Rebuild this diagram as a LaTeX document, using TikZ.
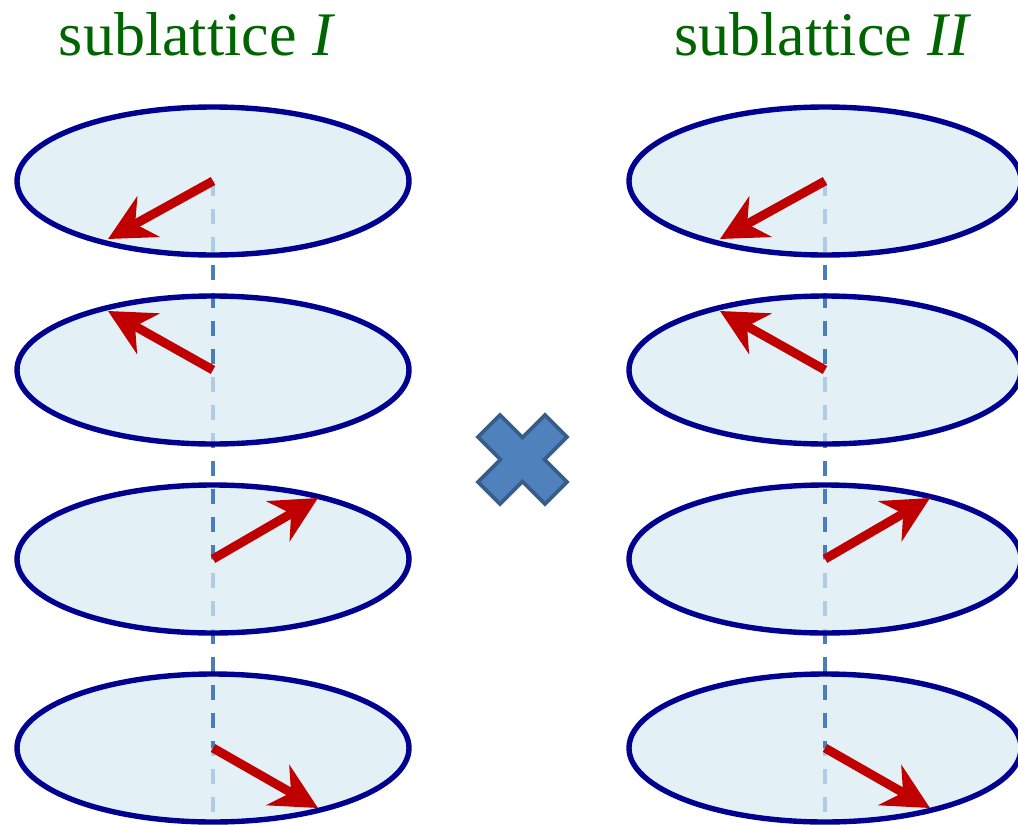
\documentclass[tikz,border=0pt]{standalone}
\usepackage{fontspec}
\setmainfont{Liberation Serif}
\usepackage{xcolor}
\usetikzlibrary{arrows.meta}
\definecolor{titlegreen}{RGB}{0,100,0}
\definecolor{disknavy}{RGB}{0,0,145}
\definecolor{diskfill}{RGB}{227,241,246}
\definecolor{axisdark}{RGB}{74,126,187}
\definecolor{axislight}{RGB}{176,204,228}
\definecolor{spinred}{RGB}{192,0,0}
\definecolor{crossfill}{RGB}{79,129,189}
\definecolor{crossedge}{RGB}{56,93,138}

\begin{document}
\begin{tikzpicture}[
  x=0.5pt, y=-0.5pt,
  disk/.style={draw=disknavy, line width=2.7pt},
  axisline/.style={line width=2pt, dash pattern=on 7.5pt off 6.5pt},
  spin/.style={draw=spinred, fill=spinred, line width=4.5pt, -{Stealth[length=23pt, width=23pt, inset=7.5pt]}},
  title/.style={text=titlegreen, font=\fontsize{31}{36}\selectfont, anchor=base}
]
\useasboundingbox (0,0) rectangle (1018,825);

\node[title] (titleI) at (197,55) {sublattice \textit{I}};
\node[title] (titleII) at (823,55) {sublattice \textit{II}};

\foreach \col/\cx in {I/213, II/825}{
  \coordinate (b\col) at (\cx,825);
  \foreach \row/\cy/\dx/\dy in {1/181/-105/58, 2/370/-105/-59, 3/559/105/-61, 4/748/105/60}{
    \coordinate (c\col\row) at (\cx,\cy);
    \path (c\col\row) ++(\dx,\dy) coordinate (t\col\row);
    \fill[diskfill] (c\col\row) ellipse [x radius=196, y radius=74];
  }
  \draw[axisline, axisdark] (c\col1) -- (b\col);
  \foreach \row/\cy in {1/181, 2/370, 3/559, 4/748}{
    \begin{scope}
      \clip (c\col\row) ellipse [x radius=196, y radius=74];
      \clip (\cx-200,\cy) rectangle (\cx+200,\cy+80);
      \draw[axisline, axislight] (c\col1) -- (b\col);
    \end{scope}
  }
  \foreach \row in {1,2,3,4}{
    \draw[disk] (c\col\row) ellipse [x radius=196, y radius=74];
    \draw[spin] (c\col\row) -- (t\col\row);
  }
}

\coordinate (mul) at (522.5,459.5);
\draw[fill=crossfill, draw=crossedge, line width=1.8pt, line join=miter]
  (mul) ++(-22,0) -- ++(-22.5,-22.5) -- ++(22,-22) -- ++(22.5,22.5) -- ++(22.5,-22.5)
  -- ++(22,22) -- ++(-22.5,22.5) -- ++(22.5,22.5) -- ++(-22,22) -- ++(-22.5,-22.5)
  -- ++(-22.5,22.5) -- ++(-22,-22) -- cycle;
\end{tikzpicture}
\end{document}
